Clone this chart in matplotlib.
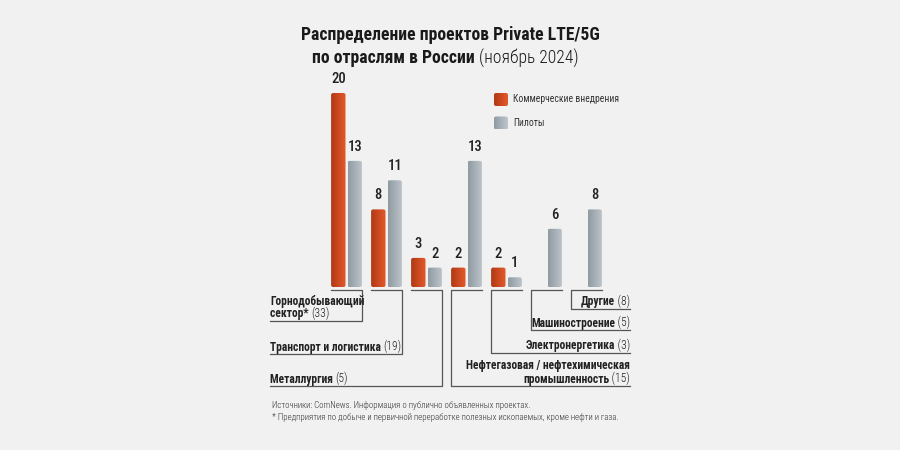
import numpy as np
import matplotlib
matplotlib.use("Agg")
import matplotlib.pyplot as plt
from matplotlib.colors import LinearSegmentedColormap
from matplotlib.patches import FancyBboxPatch

# данные
categories = ["Горнодобывающий\nсектор*", "Транспорт и логистика", "Металлургия",
              "Нефтегазовая / нефтехимическая\nпромышленность", "Электронергетика",
              "Машиностроение", "Другие"]
totals = [33, 19, 5, 15, 3, 5, 8]
commercial = [20, 8, 3, 2, 2, 0, 0]
pilots = [13, 11, 2, 13, 1, 6, 8]
legend_labels = ["Коммерческие внедрения", "Пилоты"]

FONT = "Roboto Condensed"
BG = "#f1f1f1"
LINE = "#555555"
orange_cmap = LinearSegmentedColormap.from_list("o", ["#b23816", "#e35a2a"])
gray_cmap = LinearSegmentedColormap.from_list("g", ["#8f9aa2", "#bfc7cc"])

fig = plt.figure(figsize=(9, 4.5), dpi=100, facecolor=BG)

# оси со столбиками (0 на y=287 px, 9.7 px на единицу)
ax = fig.add_axes([320 / 900, (450 - 287) / 450, 300 / 900, 21 * 9.7 / 450])
ax.set_facecolor("none")
for s in ax.spines.values():
    s.set_visible(False)
ax.set_xticks([])
ax.set_yticks([])

x = np.arange(len(categories))
w = 0.36
grad = np.linspace(0, 1, 64).reshape(1, -1)


def gradient_bars(bars, cmap, values):
    for rect, v in zip(bars, values):
        rect.set_visible(False)
        if v <= 0:
            continue
        x0, h, bw = rect.get_x(), rect.get_height(), rect.get_width()
        box = FancyBboxPatch((x0, 0), bw, h, boxstyle="round,pad=0,rounding_size=0.05",
                             mutation_aspect=4.1, facecolor="none", edgecolor="none",
                             transform=ax.transData)
        ax.add_patch(box)
        im = ax.imshow(grad, extent=(x0, x0 + bw, 0, h), aspect="auto", cmap=cmap,
                       origin="lower", zorder=2)
        im.set_clip_path(box)
        ax.annotate(str(v), (x0 + bw / 2, h), xytext=(0, 5), textcoords="offset points",
                    ha="center", va="bottom", fontsize=10.5, fontweight=500,
                    family=FONT, color="#222222")


b1 = ax.bar(x - 0.205, commercial, w)
b2 = ax.bar(x + 0.205, pilots, w)
gradient_bars(b1, orange_cmap, commercial)
gradient_bars(b2, gray_cmap, pilots)
ax.set_xlim(-0.6625, 6.8375)
ax.set_ylim(0, 21)

# оверлей в пикселях для подписей и скобок
ov = fig.add_axes([0, 0, 1, 1])
ov.set_xlim(0, 900)
ov.set_ylim(450, 0)
ov.axis("off")
ov.set_facecolor("none")

renderer = fig.canvas.get_renderer()


def width_of(t):
    return t.get_window_extent(renderer).width


# заголовок
ov.text(450, 35, "Распределение проектов Private LTE/5G", ha="center", va="center",
        fontsize=12.7, fontweight="bold", family=FONT, color="#1a1a1a")
t1 = ov.text(0, 58, "по отраслям в России ", ha="left", va="center",
             fontsize=12.7, fontweight="bold", family=FONT, color="#1a1a1a")
t2 = ov.text(0, 58, "(ноябрь 2024)", ha="left", va="center",
             fontsize=12.7, fontweight="light", family=FONT, color="#1a1a1a")
tw1, tw2 = width_of(t1), width_of(t2)
start = 445 - (tw1 + tw2) / 2
t1.set_x(start)
t2.set_x(start + tw1)

# легенда
for k, (lab, cmap) in enumerate(zip(legend_labels, [orange_cmap, gray_cmap])):
    y0 = 93 + k * 23.5
    sq = FancyBboxPatch((494, y0), 14, 13, boxstyle="round,pad=0,rounding_size=2",
                        facecolor="none", edgecolor="none")
    ov.add_patch(sq)
    im = ov.imshow(grad, extent=(494, 508, y0 + 13, y0), aspect="auto", cmap=cmap, zorder=2)
    im.set_clip_path(sq)
    ov.text(513, y0 + 6.5, lab, ha="left", va="center", fontsize=6.9,
            family=FONT, color="#333333")
ov.set_xlim(0, 900)
ov.set_ylim(450, 0)

# скобки и подписи категорий
left_bottoms = [321, 354, 386]
right_bottoms = [386, 353, 330, 309]
lab_kw = dict(fontsize=8.3, family=FONT, color="#222222")
for i, (name, tot) in enumerate(zip(categories, totals)):
    xl, xr = 331 + 40 * i, 362 + 40 * i
    lines = name.split("\n")
    if i < 3:
        yb = left_bottoms[i]
        ov.plot([xl, xr, xr, 270], [290, 290, yb, yb], color=LINE, lw=0.9)
        for j, line in enumerate(lines):
            yy = yb - 3.5 - 13 * (len(lines) - 1 - j)
            tb = ov.text(270, yy, line + (" " if j == len(lines) - 1 else ""),
                         ha="left", va="baseline", fontweight="bold", **lab_kw)
            if j == len(lines) - 1:
                ov.text(270 + width_of(tb), yy, f"({tot})", ha="left", va="baseline",
                        fontweight="light", **lab_kw)
    else:
        yb = right_bottoms[i - 3]
        ov.plot([xr, xl, xl, 630], [290, 290, yb, yb], color=LINE, lw=0.9)
        for j, line in enumerate(lines):
            yy = yb - 3.5 - 13 * (len(lines) - 1 - j)
            if j == len(lines) - 1:
                tl = ov.text(630, yy, f" ({tot})", ha="right", va="baseline",
                             fontweight="light", **lab_kw)
                ov.text(630 - width_of(tl), yy, line, ha="right", va="baseline",
                        fontweight="bold", **lab_kw)
            else:
                ov.text(630, yy, line, ha="right", va="baseline", fontweight="bold", **lab_kw)

# примечания
ov.text(272, 405, "Источники: ComNews. Информация о публично объявленных проектах.",
        ha="left", va="center", fontsize=6.4, fontweight="light", family=FONT, color="#333333")
ov.text(272, 417, "* Предприятия по добыче и первичной переработке полезных ископаемых, "
        "кроме нефти и газа.", ha="left", va="center", fontsize=6.4, fontweight="light",
        family=FONT, color="#333333")

fig.savefig("out.png", dpi=100, facecolor=BG)
